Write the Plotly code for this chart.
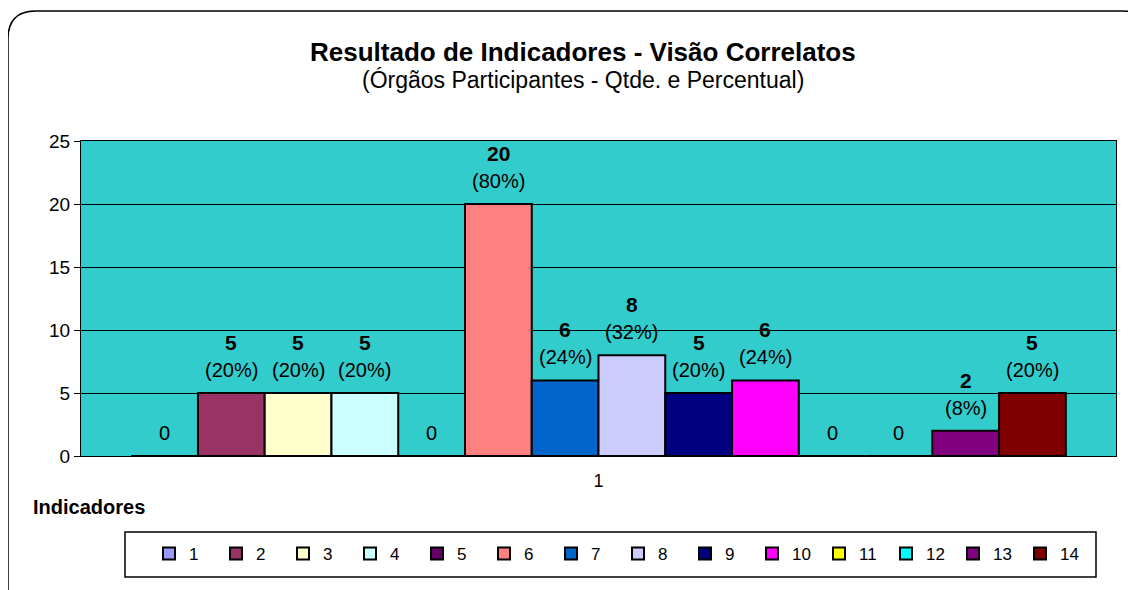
import plotly.graph_objects as go

categories = ["1"]
series_names = ["1", "2", "3", "4", "5", "6", "7", "8", "9", "10", "11", "12", "13", "14"]
values = [0, 5, 5, 5, 0, 20, 6, 8, 5, 6, 0, 0, 2, 5]
percents = [0, 20, 20, 20, 0, 80, 24, 32, 20, 24, 0, 0, 8, 20]
colors = ["#9999FF", "#993366", "#FFFFCC", "#CCFFFF", "#660066", "#FF8080", "#0066CC",
          "#CCCCFF", "#000080", "#FF00FF", "#FFFF00", "#00FFFF", "#800080", "#800000"]
y_ticks = [0, 5, 10, 15, 20, 25]

OFF = 8  # page body margin
W, H = 1136 - OFF, 590 - OFF
L, R, T, B = 81 - OFF, 1116 - OFF, 141 - OFF, 456 - OFF
FONT = "Liberation Sans, Arial, sans-serif"


def px_x(p):
    return (p - OFF - L) / (R - L)


def px_y(p):
    return (B - (p - OFF)) / (B - T)


BARGAP = 0.097
n = len(series_names)
fig = go.Figure()
for i, name in enumerate(series_names):
    fig.add_trace(go.Bar(
        x=categories, y=[values[i]], name=name,
        marker=dict(color=colors[i], line=dict(color="black", width=2)),
        hoverinfo="y",
    ))

annotations = []
w = (1 - BARGAP) / n
for i, v in enumerate(values):
    xc = -0.5 + BARGAP / 2 + (i + 0.5) * w
    if v == 0:
        annotations.append(dict(x=xc, y=0, xref="x", yref="y", text="0", showarrow=False,
                                yanchor="bottom", yshift=10,
                                font=dict(size=20, color="black", family=FONT)))
    else:
        annotations.append(dict(x=xc, y=v, xref="x", yref="y", text="(%d%%)" % percents[i],
                                showarrow=False, yanchor="bottom", yshift=10,
                                font=dict(size=20, color="black", family=FONT)))
        annotations.append(dict(x=xc, y=v, xref="x", yref="y", text="<b>%d</b>" % v,
                                showarrow=False, yanchor="bottom", yshift=37,
                                font=dict(size=21, color="black", family=FONT)))

annotations += [
    dict(x=px_x(583), y=px_y(52), xref="paper", yref="paper", showarrow=False,
         text="<b>Resultado de Indicadores - Visão Correlatos</b>",
         font=dict(size=26, color="black", family=FONT), xanchor="center", yanchor="middle"),
    dict(x=px_x(583), y=px_y(80), xref="paper", yref="paper", showarrow=False,
         text="(Órgãos Participantes - Qtde. e Percentual)",
         font=dict(size=23, color="black", family=FONT), xanchor="center", yanchor="middle"),
    dict(x=px_x(31), y=px_y(507), xref="paper", yref="paper", showarrow=False,
         text="<b>Indicadores</b>",
         font=dict(size=20, color="black", family=FONT), xanchor="left", yanchor="middle"),
]

# rounded outer frame
x0, y0, x1, y1, r = 8, 11, 1150, 604, 28
path = (f"M {px_x(x0)},{px_y(y0 + r)} "
        f"Q {px_x(x0)},{px_y(y0)} {px_x(x0 + r)},{px_y(y0)} "
        f"L {px_x(x1 - r)},{px_y(y0)} "
        f"Q {px_x(x1)},{px_y(y0)} {px_x(x1)},{px_y(y0 + r)} "
        f"L {px_x(x1)},{px_y(y1)} L {px_x(x0)},{px_y(y1)} Z")

shapes = [
    dict(type="path", path=path, xref="paper", yref="paper",
         line=dict(color="black", width=1.5), fillcolor="rgba(0,0,0,0)", layer="below"),
    dict(type="rect", xref="paper", yref="paper",
         x0=px_x(125), x1=px_x(1096), y0=px_y(532), y1=px_y(577),
         line=dict(color="black", width=1.5), fillcolor="white", layer="below"),
]

fig.update_layout(
    width=W, height=H,
    margin=dict(l=L, r=W - R, t=T, b=H - B, pad=0),
    paper_bgcolor="white", plot_bgcolor="#33CCCC",
    barmode="group", bargap=BARGAP, bargroupgap=0,
    font=dict(family=FONT, color="black", size=16),
    showlegend=True,
    legend=dict(orientation="h", x=px_x(618), xanchor="center", y=px_y(554), yanchor="middle",
                borderwidth=0, bgcolor="rgba(0,0,0,0)",
                font=dict(size=17, family=FONT, color="black"),
                entrywidth=22, entrywidthmode="pixels", itemwidth=30,
                traceorder="normal"),
    annotations=annotations,
    shapes=shapes,
)
fig.update_xaxes(type="category", range=[-0.5, 0.5], showgrid=False,
                 showline=True, linecolor="black", linewidth=1, mirror=True,
                 ticks="", tickfont=dict(size=18, color="black", family=FONT), ticklabelstandoff=8)
fig.update_yaxes(range=[0, 25], tickvals=y_ticks, showgrid=True, gridcolor="black", gridwidth=1,
                 showline=True, linecolor="black", linewidth=1, mirror=True,
                 ticks="outside", ticklen=6, tickcolor="black", zeroline=False,
                 tickfont=dict(size=19, color="black", family=FONT))

fig.write_html("out.html")
